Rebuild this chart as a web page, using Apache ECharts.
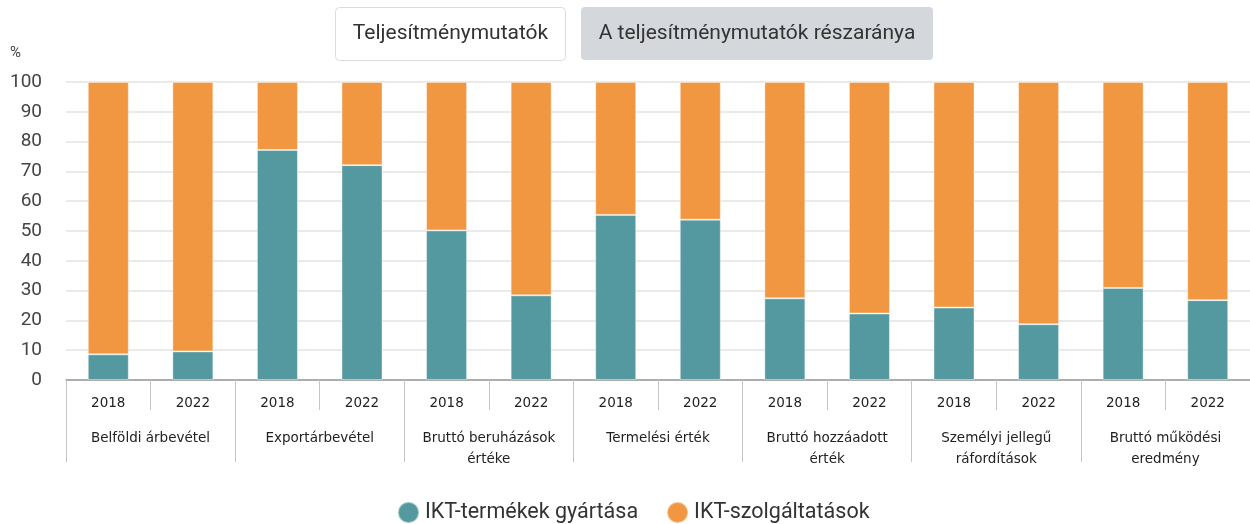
<!DOCTYPE html>
<html>
<head>
<meta charset="utf-8">
<title>IKT részarány</title>
<script src="https://cdn.jsdelivr.net/npm/echarts@6/dist/echarts.min.js"></script>
<style>
  html, body { margin: 0; padding: 0; background: #fff; }
  #chart { width: 1250px; height: 524px; }
</style>
</head>
<body>
<div id="chart"></div>
<script>
  // évek és mutatók
  var years = ['2018', '2022', '2018', '2022', '2018', '2022', '2018', '2022', '2018', '2022', '2018', '2022', '2018', '2022'];
  var groups = ['Belföldi árbevétel', 'Exportárbevétel', 'Bruttó beruházások\nértéke', 'Termelési érték',
    'Bruttó hozzáadott\nérték', 'Személyi jellegű\nráfordítások', 'Bruttó működési\neredmény'];
  var yTicks = [0, 10, 20, 30, 40, 50, 60, 70, 80, 90, 100];
  // részarány, %
  var termekek = [8.6, 9.6, 77.2, 72.1, 50.2, 28.4, 55.4, 53.8, 27.4, 22.3, 24.3, 18.7, 30.9, 26.8];
  var szolgaltatasok = [91.4, 90.4, 22.8, 27.9, 49.8, 71.6, 44.6, 46.2, 72.6, 77.7, 75.7, 81.3, 69.1, 73.2];
  var buttons = ['Teljesítménymutatók', 'A teljesítménymutatók részaránya'];

  var chart = echarts.init(document.getElementById('chart'));

  chart.setOption({
    animation: false,
    color: ['#54999f', '#f29741'],
    grid: { left: 66, top: 82, width: 1191, height: 298 },
    //gombok a tetején
    graphic: [
      {
        type: 'group', left: 335, top: 7,
        children: [
          { type: 'rect', shape: { x: 0, y: 0, width: 230, height: 53, r: 4 }, style: { fill: '#fff', stroke: '#dcdcdc', lineWidth: 1 } },
          { type: 'text', x: 115, y: 26.5, style: { text: buttons[0], fill: '#333', font: '21px Roboto', align: 'center', verticalAlign: 'middle' } }
        ]
      },
      {
        type: 'group', left: 581, top: 7,
        children: [
          { type: 'rect', shape: { x: 0, y: 0, width: 352, height: 53, r: 4 }, style: { fill: '#d4d7dc' } },
          { type: 'text', x: 176, y: 26.5, style: { text: buttons[1], fill: '#333', font: '21px Roboto', align: 'center', verticalAlign: 'middle' } }
        ]
      }
    ],
    legend: {
      left: 397, top: 501, padding: 0,
      icon: 'circle', itemWidth: 21, itemHeight: 21, itemGap: 28,
      textStyle: { fontFamily: 'Roboto', fontSize: 21.5, color: '#333', padding: [0, 0, 0, 1] },
      data: ['IKT-termékek gyártása', 'IKT-szolgáltatások']
    },
    xAxis: [
      {
        type: 'category',
        position: 'bottom',
        data: years,
        axisLine: { show: true, lineStyle: { color: '#999', width: 1.5 } },
        axisTick: { show: true, interval: 0, length: 30, lineStyle: { color: '#c4c4c4' } },
        axisLabel: { interval: 0, margin: 16, fontFamily: 'DejaVu Sans', fontSize: 13.5, color: '#222' }
      },
      {
        type: 'category',
        position: 'bottom',
        data: groups,
        axisLine: { show: false },
        axisTick: { show: true, interval: 0, length: 82, lineStyle: { color: '#c4c4c4' } },
        axisLabel: { interval: 0, margin: 48, fontFamily: 'DejaVu Sans', fontSize: 13.5, lineHeight: 21, color: '#222' }
      }
    ],
    yAxis: {
      type: 'value',
      min: yTicks[0], max: yTicks[yTicks.length - 1], interval: 10,
      name: '%', nameGap: 21,
      nameTextStyle: { fontFamily: 'Roboto', fontSize: 15, color: '#444', align: 'right', padding: [0, 45, 0, 0] },
      axisLine: { show: false }, axisTick: { show: false },
      axisLabel: { margin: 24, fontFamily: 'Roboto', fontSize: 19, color: '#444' },
      splitLine: { lineStyle: { color: '#e3e3e3', width: 1.5 } }
    },
    series: [
      {
        name: 'IKT-termékek gyártása', type: 'bar', stack: 'ossz', barWidth: 41, xAxisIndex: 0,
        itemStyle: { borderColor: 'rgba(255,255,255,0.4)', borderWidth: 1 },
        data: termekek
      },
      {
        name: 'IKT-szolgáltatások', type: 'bar', stack: 'ossz', barWidth: 41, xAxisIndex: 0,
        itemStyle: { borderColor: 'rgba(255,255,255,0.4)', borderWidth: 1 },
        data: szolgaltatasok
      }
    ]
  });
</script>
</body>
</html>
